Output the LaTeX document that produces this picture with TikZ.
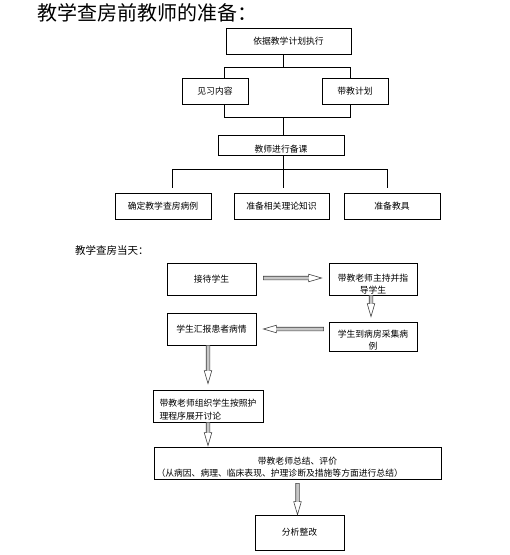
\documentclass[tikz,border=0pt]{standalone}
\usepackage{fontspec}
\setmainfont{Noto Sans CJK SC}
\usetikzlibrary{calc}
\tikzset{
  box/.style={draw, line width=0.8pt, inner sep=0pt, font=\fontsize{8.8}{12}\selectfont},
  txt/.style={font=\fontsize{8.8}{12.5}\selectfont, inner sep=0pt, align=center},
  link/.style={line width=0.8pt},
  harrow/.style={draw=black!75, line width=0.6pt},
  shaftfill/.style={fill=black!22},
}
\newcommand\myarrR[2]{%
  \fill[shaftfill] ($(#1)+(0,-1.8)$) rectangle ($(#2)+(-13,1.8)$);
  \draw[harrow] ($(#1)+(0,-1.8)$) -- ($(#2)+(-13,-1.8)$) -- ($(#2)+(-13,-3.8)$) -- (#2) -- ($(#2)+(-13,3.8)$) -- ($(#2)+(-13,1.8)$) -- ($(#1)+(0,1.8)$) -- cycle;}
\newcommand\myarrL[2]{%
  \fill[shaftfill] ($(#1)+(0,-1.8)$) rectangle ($(#2)+(13,1.8)$);
  \draw[harrow] ($(#1)+(0,-1.8)$) -- ($(#2)+(13,-1.8)$) -- ($(#2)+(13,-3.8)$) -- (#2) -- ($(#2)+(13,3.8)$) -- ($(#2)+(13,1.8)$) -- ($(#1)+(0,1.8)$) -- cycle;}
\newcommand\myarrD[2]{%
  \fill[shaftfill] ($(#1)+(-1.8,0)$) rectangle ($(#2)+(1.8,-13)$);
  \draw[harrow] ($(#1)+(-1.8,0)$) -- ($(#2)+(-1.8,-13)$) -- ($(#2)+(-3.8,-13)$) -- (#2) -- ($(#2)+(3.8,-13)$) -- ($(#2)+(1.8,-13)$) -- ($(#1)+(1.8,0)$) -- cycle;}
\begin{document}
\begin{tikzpicture}[x=1pt,y=-1pt]
\useasboundingbox (0,0) rectangle (510,555);
% ---------- part 1 ----------
\node[anchor=west, inner sep=0pt, font=\fontsize{20}{24}\selectfont] (title) at (37,13) {教学查房前教师的准备：};
\node[box, minimum width=125pt, minimum height=26pt] (b1) at (288.5,41) {依据教学计划执行};
\node[box, minimum width=66pt, minimum height=26pt] (b2) at (215,91) {见习内容};
\node[box, minimum width=66pt, minimum height=26pt] (b3) at (355,91) {带教计划};
\node[box, minimum width=126pt, minimum height=20pt, label={[txt,yshift=-4pt]center:教师进行备课}] (b4) at (281,145) {};
\node[box, minimum width=96pt, minimum height=26pt] (b5) at (163,206) {确定教学查房病例};
\node[box, minimum width=95pt, minimum height=26pt] (b6) at (281.5,206) {准备相关理论知识};
\node[box, minimum width=96pt, minimum height=26pt] (b7) at (392,206) {准备教具};

\coordinate (t1) at (283,67);
\coordinate (t2) at (283,117);
\coordinate (t3) at (283,169);
\coordinate (x224) at (224,67);
\coordinate (x350) at (350,67);
\coordinate (y224) at (224,117);
\coordinate (y350) at (350,117);
\coordinate (l1) at (172,169);
\coordinate (l3) at (387,169);

\draw[link] (b1.south -| t1) -- (t1);
\draw[link] (b2.north -| x224) -- (x224) -- (x350) -- (b3.north -| x350);
\draw[link] (b2.south -| y224) -- (y224) -- (y350) -- (b3.south -| y350);
\draw[link] (t2) -- (b4.north -| t2);
\draw[link] (b4.south -| t3) -- (t3);
\draw[link] (l1) -- (l3);
\draw[link, shorten >=5pt] (l1) -- (b5.north -| l1);
\draw[link, shorten >=5pt] (t3) -- (b6.north -| t3);
\draw[link, shorten >=5pt] (l3) -- (b7.north -| l3);

% ---------- part 2 ----------
\node[anchor=west, inner sep=0pt, font=\fontsize{10.5}{12}\selectfont] (sub) at (75,250) {教学查房当天：};
\node[box, minimum width=89pt, minimum height=32pt] (d1) at (211.5,279) {接待学生};
\node[box, minimum width=88pt, minimum height=32pt, label={[txt,yshift=-5pt]center:{带教老师主持并指\\导学生}}] (d2) at (373,279) {};
\node[box, minimum width=89pt, minimum height=32pt] (d3) at (211.5,329) {学生汇报患者病情};
\node[box, minimum width=88pt, minimum height=29pt, label={[txt,yshift=-3.5pt]center:{学生到病房采集病\\例}}] (d4) at (373,336.5) {};
\node[box, minimum width=110pt, minimum height=32pt, label={[txt,align=left,yshift=-3.5pt]center:{带教老师组织学生按照护\\理程序展开讨论}}] (d5) at (208,406) {};
\node[box, minimum width=287pt, minimum height=32pt, label={[txt,yshift=-5pt]center:{\begin{tabular}{@{}l@{}}\makebox[282pt]{带教老师总结、评价}\\（从病因、病理、临床表现、护理诊断及措施等方面进行总结）\end{tabular}}}] (d6) at (297.5,463) {};
\node[box, minimum width=89pt, minimum height=35pt] (d7) at (299.5,532.5) {分析整改};

\coordinate (a1s) at ($(d1.east)+(7,-1)$);
\coordinate (a1e) at ($(d2.west)+(-7,-1)$);
\coordinate (a2s) at ($(d2.south)+(-2,0)$);
\coordinate (a2e) at ($(d4.north)+(-2,-5)$);
\coordinate (a3s) at ($(d4.west)+(-5,-7.5)$);
\coordinate (a3e) at ($(d3.east)+(7,0)$);
\coordinate (a4s) at ($(d3.south)+(-3.5,0)$);
\coordinate (a4e) at ($(d5.north)+(0,-6)$);
\coordinate (a5s) at (d5.south);
\coordinate (a5e) at ($(d6.north -| d5.south)+(0,-1)$);
\coordinate (a6s) at ($(d6.south)+(0,4)$);
\coordinate (a6e) at (d7.north -| a6s);

\myarrR{a1s}{a1e}
\myarrD{a2s}{a2e}
\myarrL{a3s}{a3e}
\myarrD{a4s}{a4e}
\myarrD{a5s}{a5e}
\myarrD{a6s}{a6e}
\end{tikzpicture}
\end{document}
